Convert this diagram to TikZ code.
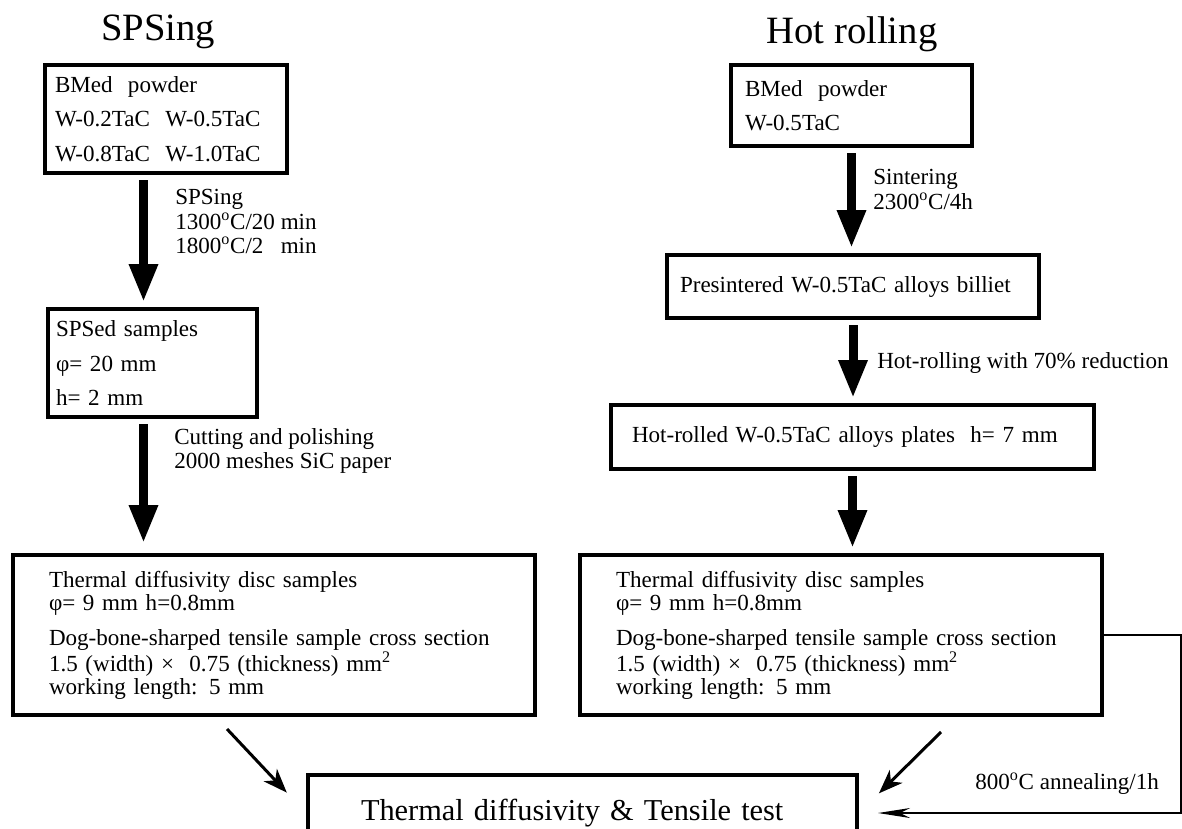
\documentclass[tikz,border=0pt]{standalone}
\usepackage{fontspec}
\setmainfont{Liberation Serif}
\usetikzlibrary{arrows.meta}

\begin{document}
\begin{tikzpicture}[
    x=0.25mm, y=-0.25mm,
    box/.style={draw, line width=1mm, anchor=north west, align=left, inner ysep=0pt, font=\fontsize{16.4pt}{24.5pt}\selectfont},
    title/.style={anchor=base, font=\fontsize{27.5pt}{30pt}\selectfont},
    note/.style={anchor=base west, align=left, inner sep=0pt, font=\fontsize{16.4pt}{16pt}\selectfont},
    flow/.style={line width=2.25mm, -{Triangle[length=9.5mm, width=6.75mm]}, shorten <=1.25mm, shorten >=1.25mm},
    link/.style={line width=0.75mm, -{Stealth[length=6mm, width=4.5mm, inset=1.8mm]}},
    return/.style={line width=0.5mm, -{Stealth[length=8mm, width=2.5mm, inset=2.5mm]}}
]
    \useasboundingbox (0,0) rectangle (1182,828);
    \clip (0,0) rectangle (1182,828);

    % column titles
    \node[title] (spsTitle) at (158,40) {SPSing};
    \node[title] (hrTitle) at (852,43) {Hot rolling};

    % SPSing route
    \node[box, text width=55.5mm, minimum height=27mm, inner xsep=2.5mm] (powderL) at (43,63) {BMed\ \ powder\\W-0.2TaC\ \ W-0.5TaC\\W-0.8TaC\ \ W-1.0TaC};
    \node[box, text width=48.25mm, minimum height=27mm, inner xsep=2mm] (spsed) at (46,307) {SPSed samples\\φ= 20 mm\\h= 2 mm};
    \node[box, font=\fontsize{16.4pt}{16.4pt}\selectfont, text width=112.5mm, minimum height=40mm, inner xsep=9mm] (discL) at (11,553) {Thermal diffusivity disc samples\\φ= 9 mm h=0.8mm\\[8.5pt]Dog-bone-sharped tensile sample cross section\\1.5 (width) ×\ \ 0.75 (thickness) mm\textsuperscript{2}\\working length: 5 mm};

    % hot rolling route
    \node[box, text width=53.25mm, minimum height=20.25mm, inner xsep=3.5mm] (powderR) at (729,63) {BMed\ \ powder\\W-0.5TaC};
    \node[box, text width=86.5mm, minimum height=15.75mm, inner xsep=3.25mm] (billet) at (665,253) {Presintered W-0.5TaC alloys billiet};
    \node[box, text width=110.25mm, minimum height=16mm, inner xsep=5.25mm] (plate) at (609,403) {Hot-rolled W-0.5TaC alloys plates\ \ h= 7 mm};
    \node[box, font=\fontsize{16.4pt}{16.4pt}\selectfont, text width=112.5mm, minimum height=40mm, inner xsep=9mm] (discR) at (578,553) {Thermal diffusivity disc samples\\φ= 9 mm h=0.8mm\\[8.5pt]Dog-bone-sharped tensile sample cross section\\1.5 (width) ×\ \ 0.75 (thickness) mm\textsuperscript{2}\\working length: 5 mm};

    % common test
    \node[box, font=\fontsize{21.6pt}{24pt}\selectfont, text width=110.75mm, minimum height=19mm, inner xsep=13.25mm] (test) at (306,773) {Thermal diffusivity \& Tensile test};

    \coordinate (axisL) at (143.5,0);
    \coordinate (edgeR) at (1181,0);

    % step labels (anchored at their last line)
    \node[note, font=\fontsize{16.4pt}{16.7pt}\selectfont] (spsStep) at (175,253) {SPSing\\[0.8pt]1300\textsuperscript{o}C/20 min\\1800\textsuperscript{o}C/2\ \ \ min};
    \node[note, font=\fontsize{16.4pt}{16.4pt}\selectfont] (cutStep) at (174,468) {Cutting and polishing\\2000 meshes SiC paper};
    \node[note, font=\fontsize{16.4pt}{16.8pt}\selectfont] (sinterStep) at (873,209) {Sintering\\[0.6pt]2300\textsuperscript{o}C/4h};
    \node[note] (rollStep) at (877,368) {Hot-rolling with 70\% reduction};
    \node[note] (annealStep) at (975,789) {800\textsuperscript{o}C annealing/1h};

    \draw[flow] (powderL.south -| axisL) -- (spsed.north -| axisL);
    \draw[flow, shorten >=2.5mm] (spsed.south -| axisL) -- (discL.north -| axisL);
    \draw[flow] (powderR.south) -- (powderR.south |- billet.north);
    \draw[flow] (billet.south) -- (billet.south |- plate.north);
    \draw[flow] (plate.south) -- (plate.south |- discR.north);

    \draw[link, shorten >=7mm] ([xshift=-11.75mm, yshift=-3mm]discL.south) -- (test.west);
    \draw[link, shorten >=7mm] ([xshift=25mm, yshift=-3.75mm]discR.south) -- (test.east);
    \draw[return, shorten >=4.75mm] (discR.east) -- (discR.east -| edgeR) -- (test.east -| edgeR) -- (test.east);
\end{tikzpicture}
\end{document}
